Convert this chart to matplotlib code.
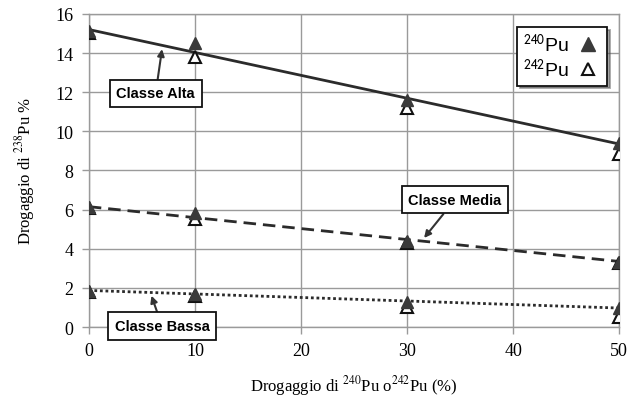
import numpy as np
import matplotlib
matplotlib.use('Agg')
import matplotlib.pyplot as plt
from matplotlib import rcParams

rcParams.update({
    "font.family": 'Liberation Serif',
    "mathtext.fontset": 'stix',
})

# drogaggio di 240Pu o 242Pu (%)
x_dop = [0, 10, 30, 50]

# 240Pu (triangoli pieni)
alta_240 = [15.1, 14.5, 11.6, 9.4]
media_240 = [6.15, 5.85, 4.4, 3.3]
bassa_240 = [1.85, 1.7, 1.3, 0.95]

# 242Pu (triangoli vuoti)
alta_242 = [15.0, 13.8, 11.2, 8.85]
media_242 = [6.1, 5.5, 4.3, 3.25]
bassa_242 = [1.8, 1.6, 1.0, 0.5]

# linee di tendenza (valori a 0 e 50)
trend_x = [0, 50]
trend_alta = [15.2, 9.35]
trend_media = [6.15, 3.35]
trend_bassa = [1.87, 0.97]

x_ticks = [0, 10, 20, 30, 40, 50]
y_ticks = [0, 2, 4, 6, 8, 10, 12, 14, 16]


def plot_drogaggio():
    fig = plt.figure(figsize=(6.3, 4.02), dpi=100)
    ax = fig.add_axes([0.141, 0.184, 0.842, 0.779])

    grid_c = '#9a9a9a'
    dark = '#2b2b2b'

    ax.plot(trend_x, trend_alta, color=dark, lw=2, ls='-', zorder=3)
    ax.plot(trend_x, trend_media, color=dark, lw=2, ls=(0, (4.5, 2.5)), zorder=3)
    ax.plot(trend_x, trend_bassa, color=dark, lw=2, ls=(0, (1, 1)), zorder=3)

    for vals in (alta_242, media_242, bassa_242):
        ax.plot(x_dop, vals, ls='none', marker='^', ms=8, mfc='white',
                mec='#111111', mew=1.5, zorder=4)
    for vals in (alta_240, media_240, bassa_240):
        ax.plot(x_dop, vals, ls='none', marker='^', ms=9, mfc='#3a3a3a',
                mec='#3a3a3a', zorder=5)

    ax.set_xlim(0, 50)
    ax.set_ylim(0, 16)
    ax.set_xticks(x_ticks)
    ax.set_yticks(y_ticks)
    ax.tick_params(labelsize=13, color=grid_c, length=5, width=1, pad=6)
    ax.grid(True, color=grid_c, lw=1)
    for s in ax.spines.values():
        s.set_color(grid_c)
        s.set_linewidth(1)
    ax.set_axisbelow(True)

    ax.set_xlabel(r'Drogaggio di $^{240}$Pu o$^{242}$Pu (%)', fontsize=12, labelpad=10)
    ax.set_ylabel(r'Drogaggio di $^{238}$Pu %', fontsize=12, labelpad=13)

    # etichette delle classi
    box = dict(boxstyle='square,pad=0.45', fc='white', ec='#111111', lw=1.3)
    arrow = dict(arrowstyle='-|>', color='#333333', lw=1.5, mutation_scale=10,
                 shrinkA=0, shrinkB=0)
    ax.annotate('Classe Alta', xy=(6.9, 14.2), xytext=(6.3, 11.95),
                ha='center', va='center', fontsize=10.5, fontweight='bold',
                family='Liberation Sans', bbox=box, arrowprops=arrow, zorder=6)
    ax.annotate('Classe Media', xy=(31.6, 4.55), xytext=(34.5, 6.5),
                ha='center', va='center', fontsize=10.5, fontweight='bold',
                family='Liberation Sans', bbox=box, arrowprops=arrow, zorder=6)
    ax.annotate('Classe Bassa', xy=(5.9, 1.6), xytext=(6.9, 0.05),
                ha='center', va='center', fontsize=10.5, fontweight='bold',
                family='Liberation Sans', bbox=box, arrowprops=arrow, zorder=6,
                annotation_clip=False)

    # legenda
    h1, = ax.plot([], [], ls='none', marker='^', ms=10, mfc='#3a3a3a', mec='#3a3a3a')
    h2, = ax.plot([], [], ls='none', marker='^', ms=9, mfc='white', mec='#111111', mew=1.5)
    leg = ax.legend([h1, h2], [r'$^{\mathsf{240}}$Pu', r'$^{\mathsf{242}}$Pu'],
                    loc='upper right', bbox_to_anchor=(0.995, 0.99),
                    markerfirst=False,
                    prop={'family': 'Liberation Sans', 'size': 14},
                    fancybox=False, shadow=True, framealpha=1,
                    edgecolor='#111111', handletextpad=0.35, borderpad=0.3,
                    labelspacing=0.15, handlelength=1.3)
    leg.get_frame().set_linewidth(1.3)
    leg.set_zorder(7)

    plt.savefig('out.png', dpi=100)


if __name__ == '__main__':
    plot_drogaggio()
